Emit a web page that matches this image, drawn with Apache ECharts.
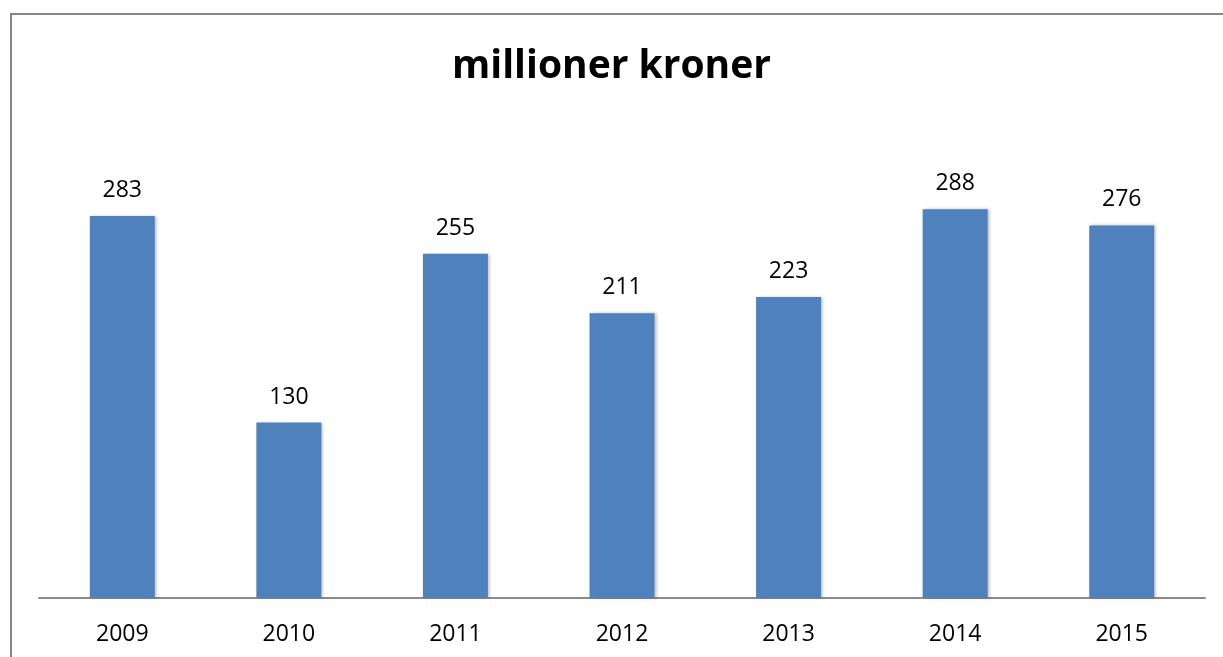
<!DOCTYPE html>
<html><head><meta charset="utf-8">
<script src="https://cdn.jsdelivr.net/npm/echarts@6/dist/echarts.min.js"></script>
<style>html,body{margin:0;padding:0;background:#fff}#c{width:1223px;height:657px}</style>
</head><body><div id="c"></div>
<script>
const categories = ['2009','2010','2011','2012','2013','2014','2015'];
const values = [283,130,255,211,223,288,276];
const titleText = 'millioner kroner';

const chart = echarts.init(document.getElementById('c'), null, {renderer:'canvas'});
chart.setOption({
  animation:false,
  backgroundColor:'#fff',
  title:{text:titleText,left:'center',top:42,itemGap:0,
    textStyle:{fontFamily:'Open Sans',fontWeight:'bold',fontSize:39,color:'#000'}},
  grid:{left:39,right:18,top:193,bottom:59},
  xAxis:{type:'category',data:categories,
    axisLine:{lineStyle:{color:'#8a8a8a',width:2}},
    axisTick:{show:false},
    axisLabel:{margin:25,fontFamily:'Open Sans',fontSize:23,color:'#000'}},
  yAxis:{type:'value',min:0,max:300,show:false,splitLine:{show:false}},
  series:[{type:'bar',data:values,barWidth:65,
    itemStyle:{color:'#4f81bd',shadowColor:'rgba(0,0,0,0.25)',shadowBlur:3,shadowOffsetX:2,shadowOffsetY:0},
    label:{show:true,position:'top',distance:14,fontFamily:'Open Sans',fontSize:23,color:'#000'}}],
  graphic:[
    {type:'polyline',shape:{points:[[11,657],[11,14],[1223,14]]},style:{stroke:'#868686',lineWidth:2,fill:null}}
  ]
});
</script></body></html>
